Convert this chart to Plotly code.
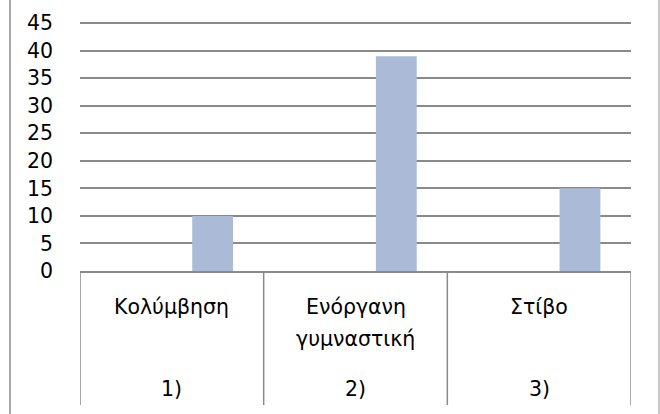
import plotly.graph_objects as go

# data
numbers = ["1)", "2)", "3)"]
sports = ["Κολύμβηση", "Ενόργανη γυμναστική", "Στίβο"]
series_a = [None, None, None]
series_b = [None, None, None]
series_c = [10, 39, 15]
y_ticks = [0, 5, 10, 15, 20, 25, 30, 35, 40, 45]

W, H = 660, 414
ML, MR, MT, MB = 80, 29, 22, 143
plot_w = W - ML - MR
plot_h = H - MT - MB

FONT = dict(family="DejaVu Sans", size=20.5, color="#000000")
GRID = "#8a8a8a"
BAR = "#aabad7"

fig = go.Figure()
for vals in (series_a, series_b, series_c):
    fig.add_trace(go.Bar(x=numbers, y=vals, marker_color=BAR,
                         marker_line_width=0, showlegend=False))

fig.update_layout(
    width=W, height=H,
    margin=dict(l=ML, r=MR, t=MT, b=MB),
    paper_bgcolor="white", plot_bgcolor="white",
    barmode="group", bargap=1.5 / 4.5, bargroupgap=0,
    font=FONT,
    xaxis=dict(type="category", showticklabels=False, ticks="",
               showgrid=False, showline=True, linecolor=GRID, linewidth=1.5,
               range=[-0.5, len(numbers) - 0.5]),
    # a touch of headroom so the top gridline (45) is not dropped at the edge
    yaxis=dict(range=[0, 45.2], tickvals=y_ticks, showgrid=True,
               gridcolor=GRID, gridwidth=1.5, zeroline=False, showline=False,
               ticks="", ticklabelstandoff=26, tickfont=FONT),
)

# category labels (two levels) and dividers
ann = []
for i, (num, name) in enumerate(zip(numbers, sports)):
    for k, line in enumerate(name.split(" ")):
        ann.append(dict(x=num, xref="x", y=0, yref="paper", text=line,
                        showarrow=False, yanchor="middle",
                        yshift=-(36 + 32 * k), font=FONT))
    ann.append(dict(x=num, xref="x", y=0, yref="paper", text=num,
                    showarrow=False, yanchor="middle", yshift=-118, font=FONT))

shapes = []
div_bottom = -(405 - (MT + plot_h)) / plot_h
for i in range(len(numbers) + 1):
    shapes.append(dict(type="line", xref="x", yref="paper",
                       x0=i - 0.5, x1=i - 0.5, y0=0, y1=div_bottom,
                       line=dict(color=GRID, width=1.5)))

# outer chart frame (left and right edges visible)
for px, col in ((10, "#8c8c8c"), (659, "#b4b4b4")):
    xp = (px - ML) / plot_w
    shapes.append(dict(type="line", xref="paper", yref="paper",
                       x0=xp, x1=xp, y0=-2, y1=2,
                       line=dict(color=col, width=1.5)))

fig.update_layout(annotations=ann, shapes=shapes)

# drop the browser's default page margin so the chart sits at the origin
fig.write_html("out.html", config={"displayModeBar": False},
               post_script="document.body.style.margin='0';")
